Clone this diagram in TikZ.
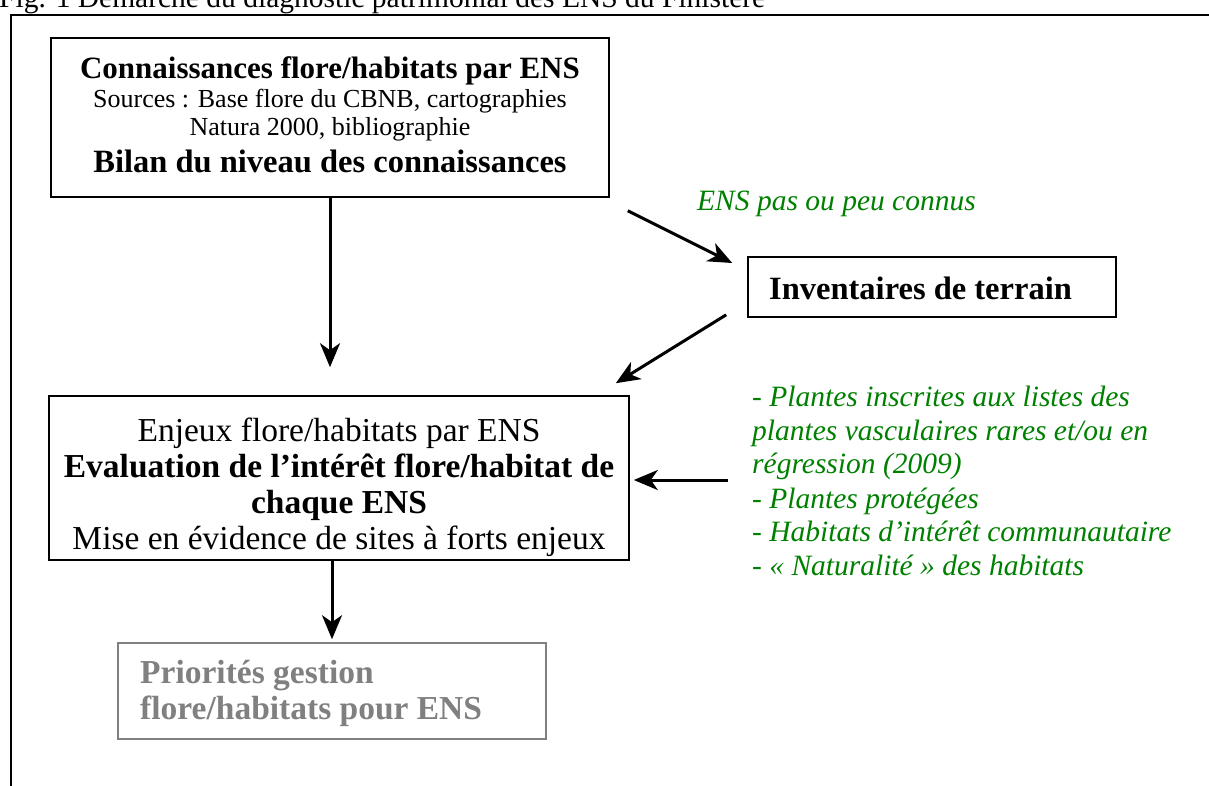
\documentclass[tikz,border=0pt]{standalone}
\usepackage{fontspec}
\setmainfont{Liberation Serif}
\usetikzlibrary{arrows.meta,calc}
\definecolor{grn}{RGB}{0,128,0}
\definecolor{gry}{RGB}{128,128,128}
\newcommand{\fsz}[1]{\fontsize{#1}{#1}\selectfont}
\begin{document}
\begin{tikzpicture}[x=1pt,y=-1pt,
  frame/.style={line width=1.6pt},
  box/.style={draw, line width=1.6pt, inner sep=0pt},
  arr/.style={line width=3pt, -{Stealth[length=24pt,width=20pt,inset=7pt]}},
  txt/.style={anchor=base, inner sep=0pt},
  gl/.style={font=\fsz{29.5}\itshape, text=grn, anchor=base west, inner sep=0pt}]
\useasboundingbox (0,0) rectangle (1209,785);
\clip (0,0) rectangle (1209,785);
% title (cut at top)
\node[txt, anchor=base west, font=\fsz{29.5}] (title) at (-1,7) {Fig. 1 Démarche du diagnostic patrimonial des ENS du Finistère};
% frame
\draw[frame] (11,800) -- (11,15) -- (1220,15);
% box 1
\node[box, minimum width=558pt, minimum height=159pt] (b1) at (330,117.5) {};
\node[txt, font=\fsz{31}\bfseries] (b1a) at (330,78) {Connaissances flore/habitats par ENS};
\node[txt, font=\fsz{26}] (b1b) at (330,107) {Sources : Base flore du CBNB, cartographies};
\node[txt, font=\fsz{26}] (b1c) at (330,135) {Natura 2000, bibliographie};
\node[txt, font=\fsz{32.5}\bfseries] (b1d) at (330,172) {Bilan du niveau des connaissances};
% inventaires
\node[box, minimum width=368pt, minimum height=60pt] (inv) at (932,287) {};
\node[txt, anchor=base west, font=\fsz{32.5}\bfseries] (invt) at (769,299) {Inventaires de terrain};
% box 2
\node[box, minimum width=580pt, minimum height=164pt] (b2) at (339,478) {};
\node[txt, font=\fsz{33.5}] (b2a) at (339,441) {Enjeux flore/habitats par ENS};
\node[txt, font=\fsz{33.5}\bfseries] (b2b) at (339,477) {Evaluation de l’intérêt flore/habitat de};
\node[txt, font=\fsz{33.5}\bfseries] (b2c) at (339,513) {chaque ENS};
\node[txt, font=\fsz{33.5}] (b2d) at (339,549) {Mise en évidence de sites à forts enjeux};
% box 3
\node[box, draw=gry, minimum width=428pt, minimum height=96pt] (b3) at (332,691) {};
\node[txt, anchor=base west, text=gry, font=\fsz{33.5}\bfseries] (b3a) at (140,683) {Priorités gestion};
\node[txt, anchor=base west, text=gry, font=\fsz{33.5}\bfseries] (b3b) at (140,719) {flore/habitats pour ENS};
% green labels
\node[gl] (ens) at (697,210) {ENS pas ou peu connus};
\node[gl] (g1) at (752,406) {- Plantes inscrites aux listes des};
\node[gl] (g2) at (752,440) {plantes vasculaires rares et/ou en};
\node[gl] (g3) at (752,473) {régression (2009)};
\node[gl] (g4) at (752,508) {- Plantes protégées};
\node[gl] (g5) at (752,541) {- Habitats d’intérêt communautaire};
\node[gl] (g6) at (752,575) {- « Naturalité » des habitats};
% arrows
\coordinate (a1e) at ($(b1.south |- b2.north)+(0,-28)$);
\draw[arr] (b1.south) -- (a1e);
\coordinate (a2s) at ($(b1.south east)+(18,13)$);
\coordinate (a2e) at ($(inv.west)+(-15,-24)$);
\draw[arr] (a2s) -- (a2e);
\coordinate (a3s) at ($(inv.south west)+(-21,-3)$);
\coordinate (a3e) at ($(b2.north east)+(-14,-12)$);
\draw[arr] (a3s) -- (a3e);
\coordinate (a4s) at (728,480);
\draw[arr] (a4s) -- ($(b2.east)+(4,2)$);
\draw[arr] (b3.north |- b2.south) -- ($(b3.north)+(0,-3)$);
\end{tikzpicture}
\end{document}
